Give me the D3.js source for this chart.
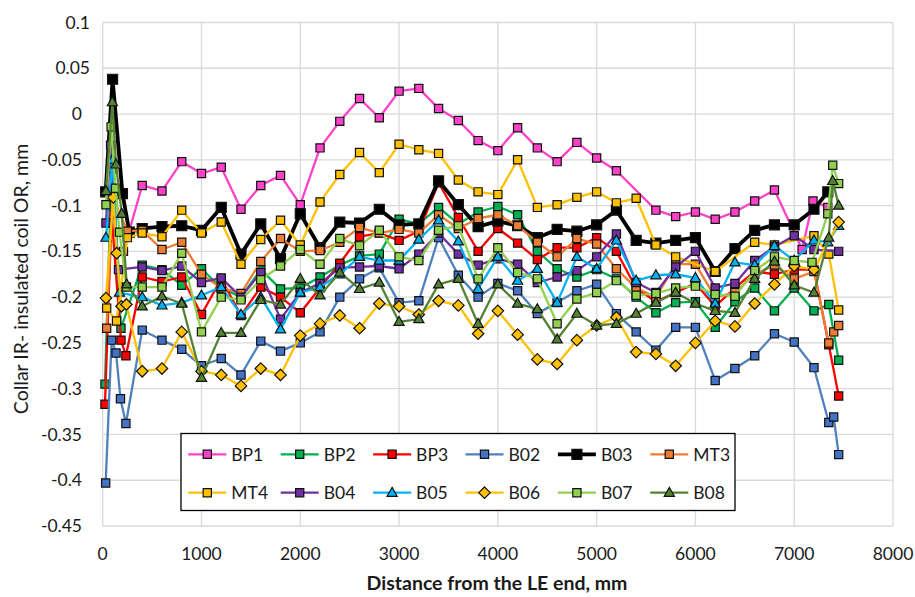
<!DOCTYPE html>
<html>
<head>
<meta charset="utf-8">
<script src="https://cdn.jsdelivr.net/npm/d3@7"></script>
<style>
  html, body { margin: 0; padding: 0; background: #fff; }
  svg { display: block; font-family: Lato, "Open Sans", sans-serif; }
</style>
</head>
<body>
<svg id="chart" width="915" height="597"></svg>
<script>
// Coil outer-radius deviation along the collar, one [distance mm, deviation mm] list per coil
const bp1 = [[210,-0.150],[400,-0.078],[600,-0.084],[800,-0.052],[1000,-0.065],[1200,-0.058],[1400,-0.104],[1600,-0.078],[1800,-0.067],[2000,-0.099],[2200,-0.037],[2400,-0.008],[2600,0.017],[2800,-0.004],[3000,0.025],[3200,0.028],[3400,0.006],[3600,-0.007],[3800,-0.029],[4000,-0.040],[4200,-0.015],[4400,-0.037],[4600,-0.052],[4800,-0.031],[5000,-0.048],[5200,-0.062],[5600,-0.105],[5800,-0.112],[6000,-0.107],[6200,-0.115],[6400,-0.107],[6600,-0.095],[6800,-0.083],[7080,-0.148],[7190,-0.095],[7340,-0.102]];
const bp2 = [[23,-0.295],[90,-0.060],[185,-0.234],[400,-0.165],[600,-0.170],[800,-0.187],[1000,-0.169],[1200,-0.190],[1400,-0.200],[1600,-0.170],[1800,-0.191],[2000,-0.190],[2200,-0.178],[2400,-0.165],[2600,-0.155],[2800,-0.153],[3000,-0.115],[3200,-0.120],[3400,-0.102],[3600,-0.120],[3800,-0.107],[4000,-0.101],[4200,-0.110],[4400,-0.150],[4600,-0.169],[4800,-0.178],[5000,-0.170],[5200,-0.180],[5400,-0.200],[5600,-0.217],[5800,-0.206],[6000,-0.205],[6200,-0.233],[6400,-0.205],[6600,-0.190],[6800,-0.215],[7000,-0.190],[7200,-0.215],[7350,-0.208],[7450,-0.269]];
const bp3 = [[23,-0.317],[90,-0.110],[185,-0.247],[235,-0.264],[400,-0.178],[600,-0.183],[800,-0.178],[1000,-0.219],[1200,-0.180],[1400,-0.220],[1600,-0.189],[1800,-0.200],[2000,-0.217],[2200,-0.190],[2400,-0.163],[2600,-0.134],[2800,-0.130],[3000,-0.138],[3200,-0.128],[3400,-0.075],[3600,-0.113],[3800,-0.150],[4000,-0.125],[4200,-0.141],[4400,-0.159],[4600,-0.146],[4800,-0.146],[5000,-0.135],[5200,-0.150],[5400,-0.190],[5600,-0.205],[5800,-0.195],[6000,-0.185],[6200,-0.210],[6400,-0.190],[6600,-0.172],[6800,-0.175],[7000,-0.170],[7200,-0.170],[7350,-0.252],[7450,-0.308]];
const b02 = [[30,-0.403],[90,-0.247],[135,-0.261],[180,-0.311],[235,-0.338],[400,-0.236],[600,-0.247],[800,-0.257],[1000,-0.275],[1200,-0.267],[1400,-0.285],[1600,-0.248],[1800,-0.259],[2000,-0.250],[2200,-0.238],[2400,-0.200],[2600,-0.180],[2800,-0.168],[3000,-0.206],[3200,-0.204],[3400,-0.135],[3600,-0.176],[3800,-0.200],[4000,-0.185],[4200,-0.193],[4400,-0.218],[4600,-0.206],[4800,-0.193],[5000,-0.186],[5200,-0.218],[5400,-0.238],[5600,-0.258],[5800,-0.233],[6000,-0.233],[6200,-0.291],[6400,-0.278],[6600,-0.264],[6800,-0.240],[7000,-0.249],[7200,-0.277],[7350,-0.337],[7400,-0.331],[7450,-0.372]];
const b03 = [[30,-0.085],[100,0.038],[200,-0.087],[270,-0.129],[400,-0.125],[600,-0.123],[800,-0.122],[1000,-0.127],[1200,-0.102],[1400,-0.153],[1600,-0.120],[1800,-0.158],[2000,-0.109],[2200,-0.146],[2400,-0.118],[2600,-0.119],[2800,-0.104],[3000,-0.121],[3200,-0.120],[3400,-0.073],[3600,-0.099],[3800,-0.123],[4000,-0.117],[4200,-0.122],[4400,-0.135],[4600,-0.126],[4800,-0.128],[5000,-0.121],[5200,-0.105],[5400,-0.138],[5600,-0.141],[5800,-0.138],[6000,-0.135],[6200,-0.172],[6400,-0.147],[6600,-0.127],[6800,-0.121],[7000,-0.121],[7200,-0.104],[7340,-0.085]];
const mt3 = [[40,-0.234],[100,-0.090],[250,-0.128],[400,-0.127],[600,-0.148],[800,-0.140],[1000,-0.175],[1200,-0.190],[1400,-0.196],[1600,-0.161],[1800,-0.136],[2000,-0.150],[2200,-0.149],[2400,-0.140],[2600,-0.124],[2800,-0.130],[3000,-0.126],[3200,-0.130],[3400,-0.110],[3600,-0.125],[3800,-0.114],[4000,-0.110],[4200,-0.122],[4400,-0.140],[4600,-0.156],[4800,-0.136],[5000,-0.142],[5200,-0.169],[5400,-0.190],[5600,-0.200],[5800,-0.164],[6000,-0.164],[6200,-0.200],[6400,-0.195],[6600,-0.175],[6800,-0.165],[7000,-0.180],[7200,-0.172],[7350,-0.250],[7400,-0.238],[7450,-0.231]];
const mt4 = [[40,-0.212],[140,-0.226],[250,-0.135],[400,-0.130],[600,-0.134],[800,-0.105],[1000,-0.130],[1200,-0.118],[1400,-0.164],[1600,-0.137],[1800,-0.116],[2000,-0.143],[2200,-0.096],[2400,-0.066],[2600,-0.042],[2800,-0.064],[3000,-0.033],[3200,-0.039],[3400,-0.043],[3600,-0.072],[3800,-0.085],[4000,-0.088],[4200,-0.050],[4400,-0.102],[4600,-0.099],[4800,-0.091],[5000,-0.085],[5200,-0.097],[5400,-0.092],[5600,-0.143],[5800,-0.156],[6200,-0.172],[6600,-0.140],[6800,-0.143],[7200,-0.133],[7350,-0.153],[7450,-0.214]];
const b04 = [[33,-0.119],[80,-0.034],[160,-0.170],[400,-0.167],[600,-0.171],[800,-0.166],[1000,-0.184],[1200,-0.179],[1400,-0.200],[1600,-0.173],[1800,-0.224],[2000,-0.195],[2200,-0.185],[2400,-0.168],[2600,-0.167],[2800,-0.166],[3000,-0.169],[3200,-0.153],[3400,-0.130],[3600,-0.153],[3800,-0.165],[4000,-0.158],[4200,-0.164],[4400,-0.184],[4600,-0.178],[4800,-0.171],[5000,-0.156],[5200,-0.131],[5400,-0.184],[5600,-0.195],[5800,-0.167],[6000,-0.150],[6200,-0.190],[6400,-0.185],[6600,-0.160],[6800,-0.145],[7000,-0.133],[7200,-0.148],[7450,-0.150]];
const b05 = [[33,-0.135],[100,-0.050],[170,-0.195],[400,-0.200],[600,-0.209],[800,-0.206],[1000,-0.198],[1200,-0.189],[1400,-0.219],[1600,-0.200],[1800,-0.235],[2000,-0.195],[2200,-0.189],[2400,-0.175],[2600,-0.156],[2800,-0.160],[3000,-0.160],[3200,-0.137],[3400,-0.116],[3600,-0.139],[3800,-0.191],[4000,-0.156],[4200,-0.182],[4400,-0.169],[4600,-0.206],[4800,-0.156],[5000,-0.169],[5200,-0.138],[5400,-0.182],[5600,-0.176],[5800,-0.175],[6000,-0.179],[6200,-0.207],[6400,-0.162],[6600,-0.165],[6800,-0.144],[7000,-0.160],[7200,-0.138],[7340,-0.140],[7450,-0.122]];
const b06 = [[33,-0.201],[107,-0.091],[142,-0.152],[190,-0.210],[240,-0.208],[400,-0.281],[600,-0.278],[800,-0.238],[1000,-0.281],[1200,-0.285],[1400,-0.297],[1600,-0.278],[1800,-0.285],[2000,-0.242],[2200,-0.229],[2400,-0.220],[2600,-0.234],[2800,-0.207],[3000,-0.210],[3200,-0.219],[3400,-0.204],[3600,-0.209],[3800,-0.240],[4000,-0.215],[4200,-0.241],[4400,-0.268],[4600,-0.273],[4800,-0.247],[5000,-0.231],[5200,-0.222],[5400,-0.260],[5600,-0.262],[5800,-0.275],[6000,-0.250],[6200,-0.226],[6400,-0.232],[6600,-0.207],[6800,-0.186],[7000,-0.166],[7200,-0.170],[7450,-0.118]];
const b07 = [[33,-0.099],[85,-0.014],[130,-0.081],[170,-0.129],[240,-0.189],[400,-0.189],[600,-0.189],[800,-0.152],[1000,-0.238],[1200,-0.200],[1400,-0.203],[1600,-0.181],[1800,-0.166],[2000,-0.148],[2200,-0.164],[2400,-0.136],[2600,-0.144],[2800,-0.127],[3000,-0.156],[3200,-0.160],[3400,-0.127],[3600,-0.122],[3800,-0.180],[4000,-0.146],[4200,-0.173],[4400,-0.180],[4600,-0.229],[4800,-0.202],[5000,-0.195],[5200,-0.182],[5400,-0.198],[5600,-0.196],[5800,-0.190],[6000,-0.188],[6200,-0.197],[6400,-0.199],[6600,-0.171],[6800,-0.156],[7000,-0.160],[7180,-0.162],[7340,-0.109],[7390,-0.056],[7450,-0.076]];
const b08 = [[33,-0.084],[98,0.013],[135,-0.055],[193,-0.109],[243,-0.186],[400,-0.210],[600,-0.199],[800,-0.207],[1000,-0.288],[1200,-0.239],[1400,-0.239],[1600,-0.203],[1800,-0.208],[2000,-0.180],[2200,-0.198],[2400,-0.173],[2600,-0.191],[2800,-0.184],[3000,-0.227],[3200,-0.224],[3400,-0.186],[3600,-0.180],[3800,-0.229],[4000,-0.186],[4200,-0.207],[4400,-0.213],[4600,-0.246],[4800,-0.218],[5000,-0.231],[5200,-0.229],[5400,-0.218],[5600,-0.206],[5800,-0.195],[6000,-0.207],[6200,-0.215],[6400,-0.217],[6600,-0.180],[6800,-0.161],[7000,-0.187],[7200,-0.195],[7350,-0.135],[7390,-0.073],[7450,-0.100]];

const seriesNames = ["BP1","BP2","BP3","B02","B03","MT3","MT4","B04","B05","B06","B07","B08"];
const seriesData = [bp1, bp2, bp3, b02, b03, mt3, mt4, b04, b05, b06, b07, b08];
const xTicks = [0,1000,2000,3000,4000,5000,6000,7000,8000];
const yTicks = [0.1,0.05,0,-0.05,-0.1,-0.15,-0.2,-0.25,-0.3,-0.35,-0.4,-0.45];

// Line colour, marker fill and marker shape per coil
const styles = {
  BP1: {line:"#ff40c8", fill:"#ff40c8", shape:"square"},
  BP2: {line:"#00b050", fill:"#00b050", shape:"square"},
  BP3: {line:"#ff0000", fill:"#ff0000", shape:"square"},
  B02: {line:"#4f81bd", fill:"#4472c4", shape:"square"},
  B03: {line:"#000000", fill:"#000000", shape:"square", width:3.8, size:10},
  MT3: {line:"#ed7d31", fill:"#ed7d31", shape:"square"},
  MT4: {line:"#ffc000", fill:"#ffc000", shape:"square"},
  B04: {line:"#7030a0", fill:"#7030a0", shape:"square"},
  B05: {line:"#00b0f0", fill:"#00b0f0", shape:"triangle"},
  B06: {line:"#ffc000", fill:"#ffc000", shape:"diamond"},
  B07: {line:"#92d050", fill:"#92d050", shape:"square"},
  B08: {line:"#548235", fill:"#548235", shape:"triangle"}
};

const svg = d3.select("#chart");
const x = d3.scaleLinear().domain([0, 8000]).range([102.7, 893]);
const y = d3.scaleLinear().domain([-0.45, 0.1]).range([526, 22.5]);

// Grid
const grid = svg.append("g").attr("stroke", "#d9d9d9").attr("stroke-width", 1.3);
grid.selectAll("line.h").data(yTicks).join("line")
  .attr("x1", x(0)).attr("x2", x(8000))
  .attr("y1", d => y(d)).attr("y2", d => y(d));
grid.selectAll("line.v").data(xTicks).join("line")
  .attr("x1", d => x(d)).attr("x2", d => x(d))
  .attr("y1", y(0.1)).attr("y2", y(-0.45));

// Axis labels
const fmt = v => v === 0 ? "0" : String(+v.toFixed(2));
svg.append("g").selectAll("text").data(yTicks).join("text")
  .attr("x", d => d > 0 ? 90 : 82)
  .attr("y", d => y(d))
  .attr("dy", "0.35em")
  .attr("text-anchor", "end")
  .attr("font-size", 17.5)
  .attr("fill", "#1a1a1a")
  .text(fmt);
svg.append("g").selectAll("text").data(xTicks).join("text")
  .attr("x", d => x(d))
  .attr("y", 560)
  .attr("text-anchor", "middle")
  .attr("font-size", 17.5)
  .attr("fill", "#1a1a1a")
  .text(d => String(d));

svg.append("text")
  .attr("x", 497).attr("y", 590)
  .attr("text-anchor", "middle")
  .attr("font-size", 19.5)
  .attr("font-weight", "bold")
  .attr("fill", "#1a1a1a")
  .text("Distance from the LE end, mm");
svg.append("text")
  .attr("transform", "translate(28,279) rotate(-90)")
  .attr("text-anchor", "middle")
  .attr("font-size", 19.5)
  .attr("fill", "#1a1a1a")
  .text("Collar IR- insulated coil OR, mm");

// Marker path generator centred at the origin
function markerPath(shape, s) {
  if (shape === "square") {
    const h = s / 2;
    return `M${-h},${-h}H${h}V${h}H${-h}Z`;
  }
  if (shape === "triangle") {
    const w = s * 0.62, ht = s * 1.05;
    return `M0,${-ht * 0.62}L${w},${ht * 0.42}L${-w},${ht * 0.42}Z`;
  }
  const r = s * 0.7;
  return `M0,${-r}L${r},0L0,${r}L${-r},0Z`;
}

const line = d3.line().x(d => x(d[0])).y(d => y(d[1]));

// Series, first drawn at the bottom
seriesNames.forEach((name, i) => {
  const st = styles[name];
  const g = svg.append("g");
  g.append("path")
    .attr("d", line(seriesData[i]))
    .attr("fill", "none")
    .attr("stroke", st.line)
    .attr("stroke-width", st.width || 2.3)
    .attr("stroke-linejoin", "round");
  g.selectAll("path.m").data(seriesData[i]).join("path")
    .attr("class", "m")
    .attr("transform", d => `translate(${x(d[0])},${y(d[1])})`)
    .attr("d", markerPath(st.shape, st.size || 8.2))
    .attr("fill", st.fill)
    .attr("stroke", "#111")
    .attr("stroke-width", 1.2);
});

// Legend
const legend = svg.append("g");
legend.append("rect")
  .attr("x", 181).attr("y", 433.5).attr("width", 554).attr("height", 77)
  .attr("fill", "#fff").attr("stroke", "#000").attr("stroke-width", 1.3);
seriesNames.forEach((name, i) => {
  const st = styles[name];
  const cx = 207.3 + (i % 6) * 92.4;
  const cy = i < 6 ? 454.3 : 492.7;
  legend.append("line")
    .attr("x1", cx - 19).attr("x2", cx + 19).attr("y1", cy).attr("y2", cy)
    .attr("stroke", st.line).attr("stroke-width", st.width || 2.3);
  legend.append("path")
    .attr("transform", `translate(${cx},${cy})`)
    .attr("d", markerPath(st.shape, st.size || 8.2))
    .attr("fill", st.fill).attr("stroke", "#111").attr("stroke-width", 1.2);
  legend.append("text")
    .attr("x", cx + 24).attr("y", cy).attr("dy", "0.36em")
    .attr("font-size", 17.5).attr("fill", "#1a1a1a")
    .text(name);
});
</script>
</body>
</html>
